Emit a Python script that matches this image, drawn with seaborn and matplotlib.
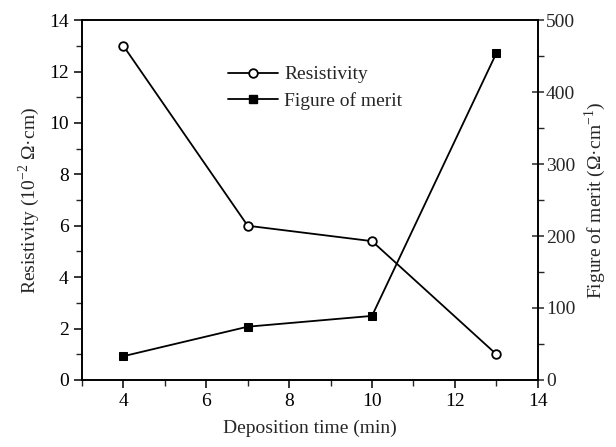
import matplotlib
matplotlib.use("Agg")
import matplotlib.pyplot as plt
import seaborn as sns
import pandas as pd
from matplotlib.ticker import MultipleLocator
from matplotlib.lines import Line2D

time_min = [4, 7, 10, 13]
resistivity = [13.0, 6.0, 5.4, 1.0]
figure_of_merit = [33, 74, 89, 454]

sns.set_style("ticks")
plt.rcParams['font.family'] = ['Liberation Serif', 'DejaVu Serif']
plt.rcParams['mathtext.fontset'] = 'custom'
plt.rcParams['mathtext.rm'] = 'Liberation Serif'

df = pd.DataFrame({"t": time_min, "r": resistivity, "f": figure_of_merit})

fig = plt.figure(figsize=(6.16, 4.47), dpi=100)
ax = fig.add_axes([0.133, 0.150, 0.740, 0.805])
ax2 = ax.twinx()

sns.lineplot(data=df, x="t", y="r", ax=ax, color="black", lw=1.3,
             marker="o", markersize=6.2, markerfacecolor="white",
             markeredgecolor="black", markeredgewidth=1.3)
sns.lineplot(data=df, x="t", y="f", ax=ax2, color="black", lw=1.3,
             marker="s", markersize=6, markerfacecolor="black",
             markeredgecolor="black")

ax.set_xlim(3, 14)
ax.set_ylim(0, 14)
ax2.set_ylim(0, 500)
ax.xaxis.set_major_locator(MultipleLocator(2))
ax.xaxis.set_minor_locator(MultipleLocator(1))
ax.yaxis.set_major_locator(MultipleLocator(2))
ax.yaxis.set_minor_locator(MultipleLocator(1))
ax2.yaxis.set_major_locator(MultipleLocator(100))
ax2.yaxis.set_minor_locator(MultipleLocator(50))
ax.set_xticks([4, 6, 8, 10, 12, 14])

for a in (ax, ax2):
    for s in a.spines.values():
        s.set_linewidth(1.2)
        s.set_color("black")
ax.tick_params(which="major", direction="out", length=6, width=1.1, labelsize=14, colors="black")
ax.tick_params(which="minor", direction="out", length=4, width=1.0)
ax2.tick_params(which="major", direction="inout", length=8, width=1.1, labelsize=14, pad=2)
ax2.tick_params(which="minor", direction="out", length=4, width=1.0)

ax.set_xlabel("Deposition time (min)", fontsize=14, labelpad=7)
ax.set_ylabel(r"Resistivity (10$^{-2}$ Ω·cm)", fontsize=14, labelpad=5)
ax2.set_ylabel(r"Figure of merit (Ω·cm$^{-1}$)", fontsize=14, labelpad=5)

handles = [
    Line2D([], [], color="black", lw=1.3, marker="o", markersize=6.2,
           markerfacecolor="white", markeredgewidth=1.3),
    Line2D([], [], color="black", lw=1.3, marker="s", markersize=6,
           markerfacecolor="black"),
]
ax.legend(handles, ["Resistivity", "Figure of merit"], frameon=False,
          fontsize=14, loc="upper left", bbox_to_anchor=(0.357, 0.87),
          bbox_transform=fig.transFigure, handlelength=2.6,
          handletextpad=0.3, labelspacing=0.45, borderaxespad=0)

fig.savefig("out.png", dpi=100)
